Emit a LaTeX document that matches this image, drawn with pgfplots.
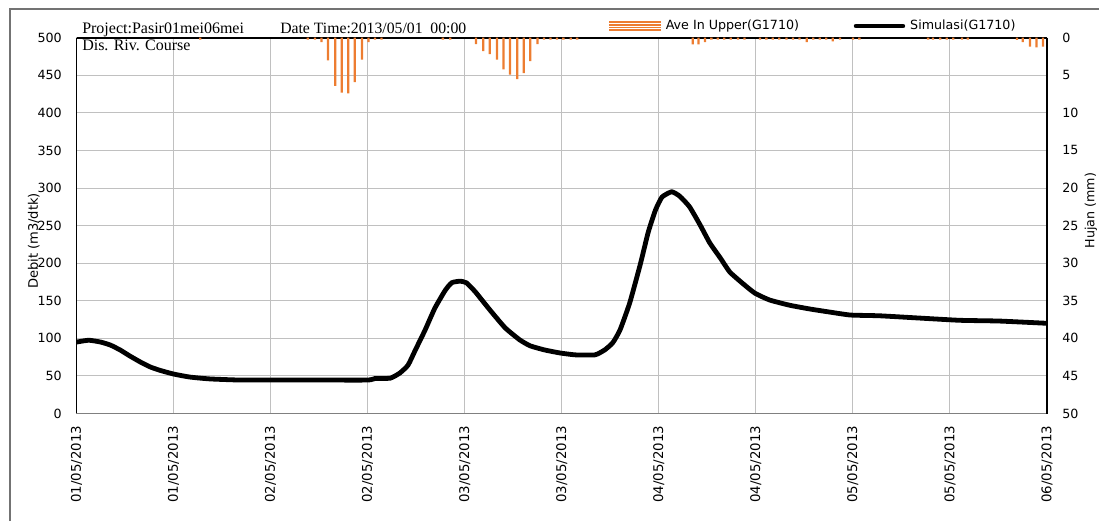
\documentclass[border=0pt]{standalone}
\usepackage{pgfplots}
\usepackage{pgfplotstable}
\pgfplotsset{compat=1.18}
\usepackage{fontspec}
\setmainfont{DejaVu Sans}
\newfontfamily\serif{Liberation Serif}
\definecolor{rainc}{HTML}{ED7D31}
\definecolor{gridc}{HTML}{C0C0C0}

\pgfplotstableread{
h q
0 95
1.5 97.5
3.0 95
4.2 91
5.4 84.5
6.6 76.5
7.9 68.5
9.1 62
10.3 57.5
12.0 52.5
14.0 48.5
16.5 46
20.2 44.5
24 44.5
30 44.5
36.0 44.5
36.9 46.5
38.8 47
40.0 54
41.0 64.5
41.9 84.5
43.1 111
44.3 140
45.6 164
46.4 174
47.4 176
48.2 174
49.3 162
51.1 138
53.0 114
54.8 98
56.1 90
57.9 84.5
59.8 80.5
61.7 78
64.1 78
65.3 84.5
66.3 94
67.2 111
68.4 147
69.7 198
70.7 241.5
71.6 271
72.4 288
73.6 295
74.6 289
75.8 275
77.1 251
78.3 227
79.6 207
80.8 188
82.6 171
83.9 160
85.7 151
88.2 144
90.7 139
93.1 135
95.7 131
99.3 130
104.2 127
109.2 124
114.1 123
120 120
}\flowdata

\pgfplotstableread{
h r
15.3 0.25
28.6 0.25
29.5 0.25
30.3 0.6
31.1 3.0
32.0 6.4
32.8 7.3
33.6 7.4
34.4 5.9
35.3 2.9
36.1 0.6
36.9 0.25
37.7 0.25
45.3 0.25
46.2 0.25
49.4 0.85
50.3 1.8
51.1 2.2
52.0 2.9
52.8 4.2
53.6 4.9
54.5 5.5
55.3 4.7
56.1 3.1
57.0 0.85
57.8 0.25
58.6 0.25
59.4 0.25
60.2 0.25
61.1 0.25
61.9 0.25
76.2 0.9
76.9 0.9
77.7 0.6
78.5 0.25
79.3 0.25
80.1 0.25
80.9 0.25
81.8 0.25
82.6 0.25
84.5 0.25
85.3 0.25
86.1 0.25
86.9 0.25
87.8 0.25
88.6 0.25
89.4 0.25
90.3 0.6
91.1 0.25
91.9 0.25
92.7 0.25
93.5 0.5
94.4 0.25
96.0 0.25
96.8 0.25
105.3 0.25
105.9 0.25
106.8 0.25
107.6 0.25
108.4 0.25
109.5 0.25
110.2 0.25
116.3 0.3
117.0 0.6
117.9 1.2
118.7 1.3
119.5 1.2
}\raindata

\begin{document}
\begin{tikzpicture}[x=0.75pt,y=0.75pt]
\useasboundingbox (0,0) rectangle (1099,521);
\draw[line width=1.5pt, color=black!55] (10,0) -- (10,512) -- (1099,512);

\begin{axis}[
  at={(57.375pt,80.625pt)}, anchor=south west,
  scale only axis, width=727.875pt, height=281.85pt,
  xmin=0, xmax=120, ymin=0, ymax=500,
  xtick={0,12,...,120},
  xticklabels={01/05/2013,01/05/2013,02/05/2013,02/05/2013,03/05/2013,03/05/2013,04/05/2013,04/05/2013,05/05/2013,05/05/2013,06/05/2013},
  ytick={0,50,...,500},
  grid=major, grid style={gridc, line width=0.75pt},
  axis x line*=bottom, axis y line*=left,
  x axis line style={-, color=black!50, line width=1.2pt},
  y axis line style={-, black, line width=0.8pt},
  major tick length=0pt,
  xticklabel style={rotate=90, anchor=east, inner sep=0pt, font=\fontsize{10}{12}\selectfont},
  yticklabel style={inner sep=0pt, font=\fontsize{9.5}{11}\selectfont},
  xticklabel shift=9pt, yticklabel shift=10.9pt,
  /pgf/number format/assume math mode=true,
  ylabel={Debit (m3/dtk)},
  ylabel style={at={(rel axis cs:-0.044,0.459)}, anchor=center, font=\fontsize{9.8}{11}\selectfont},
]
\addplot[black, line width=3.6pt, line join=round, smooth, tension=0.3] table[x=h, y=q] {\flowdata};
\end{axis}

\begin{axis}[
  at={(57.375pt,80.625pt)}, anchor=south west,
  scale only axis, width=727.875pt, height=281.85pt,
  xmin=0, xmax=120, ymin=0, ymax=50, y dir=reverse,
  axis x line*=top, axis y line*=right,
  xtick=\empty, ytick={0,5,...,50},
  x axis line style={-, black, line width=1.5pt},
  y axis line style={-, black, line width=1.1pt},
  major tick length=0pt,
  yticklabel style={inner sep=0pt, anchor=west, font=\fontsize{9.5}{11}\selectfont},
  yticklabel shift=11.25pt,
  /pgf/number format/assume math mode=true,
  ylabel={Hujan (mm)},
  ylabel style={at={(rel axis cs:1.0453,0.54)}, anchor=center, font=\fontsize{9.5}{11}\selectfont},
  legend style={at={(rel axis cs:0.5477,1.0311)}, anchor=west, draw=none, fill=none,
    inner sep=0pt, font=\fontsize{9.5}{11}\selectfont, nodes={inner sep=0pt},
    /tikz/every odd column/.append style={column sep=3.75pt},
    /tikz/every even column/.append style={column sep=41pt}},
  legend columns=2,
]
\addplot[ybar, bar width=1.7pt, fill=rainc, draw=none,
  legend image code/.code={
    \fill[rainc] (0pt,-3.75pt) rectangle (39pt,3.75pt);
    \draw[white, line width=0.35pt] (0pt,-1.9pt)--(39pt,-1.9pt) (0pt,0pt)--(39pt,0pt) (0pt,1.9pt)--(39pt,1.9pt);}
  ] table[x=h, y=r] {\raindata};
\addlegendentry{Ave In Upper(G1710)}
\addlegendimage{legend image code/.code={\draw[black, line width=3.6pt, line cap=round] (2pt,0pt) -- (37pt,0pt);}}
\addlegendentry{Simulasi(G1710)}
\end{axis}

\node[anchor=base west, inner sep=0pt, font=\serif\fontsize{12}{14}\selectfont] at (82,487.7) {Project:Pasir01mei06mei};
\node[anchor=base west, inner sep=0pt, font=\serif\fontsize{11.8}{14}\selectfont] at (280,487.7) {Date Time:2013/05/01\ \ 00:00};
\node[anchor=base west, inner sep=0pt, font=\serif\fontsize{12}{14}\selectfont] at (82,470) {Dis. Riv. Course};
\end{tikzpicture}
\end{document}
